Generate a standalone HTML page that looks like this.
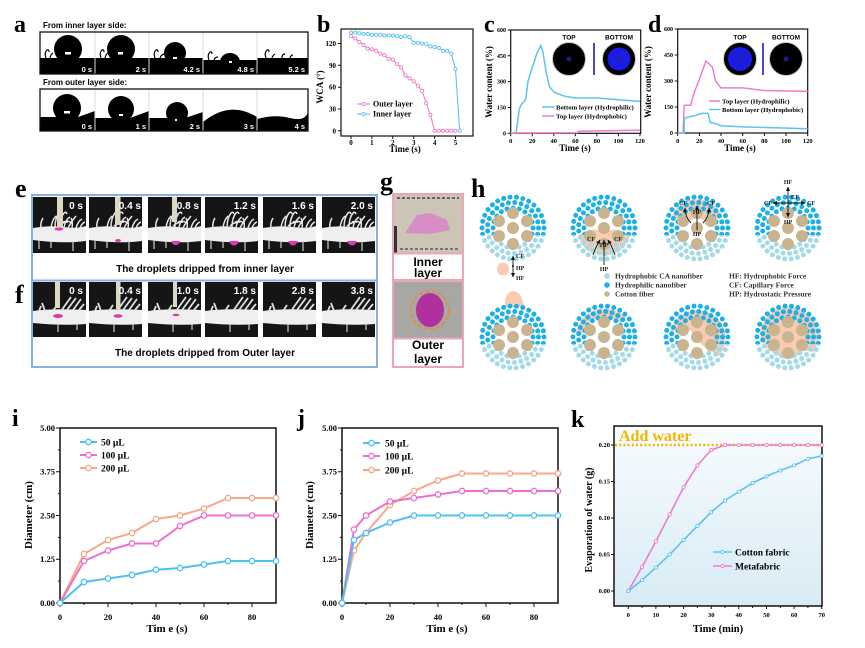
<!DOCTYPE html>
<html><head><meta charset="utf-8"><style>
html,body{margin:0;padding:0;background:#fff;width:865px;height:648px;overflow:hidden}
svg{display:block}
text{font-family:"Liberation Serif",serif;font-weight:bold}
.s, .s text, text.s{font-family:"Liberation Sans",sans-serif;font-weight:bold}
</style></head><body>
<svg width="865" height="648" viewBox="0 0 865 648" xmlns="http://www.w3.org/2000/svg">
<defs>
<marker id="mB" markerUnits="userSpaceOnUse" markerWidth="8" markerHeight="8" refX="4" refY="4"><circle cx="4" cy="4" r="2.7" fill="#fff" stroke="#4fc0f2" stroke-width="1.3"/></marker>
<marker id="mP" markerUnits="userSpaceOnUse" markerWidth="8" markerHeight="8" refX="4" refY="4"><circle cx="4" cy="4" r="2.7" fill="#fff" stroke="#ef6fcf" stroke-width="1.3"/></marker>
<marker id="mO" markerUnits="userSpaceOnUse" markerWidth="8" markerHeight="8" refX="4" refY="4"><circle cx="4" cy="4" r="2.7" fill="#fff" stroke="#f6a888" stroke-width="1.3"/></marker>
<marker id="sB" markerUnits="userSpaceOnUse" markerWidth="6" markerHeight="6" refX="3" refY="3"><circle cx="3" cy="3" r="1.6" fill="#fff" stroke="#5cc3f0" stroke-width="0.9"/></marker>
<marker id="sP" markerUnits="userSpaceOnUse" markerWidth="6" markerHeight="6" refX="3" refY="3"><circle cx="3" cy="3" r="1.6" fill="#fff" stroke="#f07ccc" stroke-width="0.9"/></marker>
<marker id="ar" markerUnits="userSpaceOnUse" markerWidth="5" markerHeight="5" refX="4" refY="2.5" orient="auto"><path d="M0,0.5 L4.5,2.5 L0,4.5 Z" fill="#111"/></marker>
<marker id="ars" markerUnits="userSpaceOnUse" markerWidth="5" markerHeight="5" refX="4" refY="2.5" orient="auto-start-reverse"><path d="M0,0.5 L4.5,2.5 L0,4.5 Z" fill="#111"/></marker>
<linearGradient id="kg" x1="0" y1="0" x2="0" y2="1"><stop offset="0" stop-color="#f8fcfe"/><stop offset="1" stop-color="#d8ebf5"/></linearGradient>
<radialGradient id="bl"><stop offset="0" stop-color="#2020c8"/><stop offset="1" stop-color="#1a1af0"/></radialGradient>
<clipPath id="lowc"><rect x="-40" y="7" width="80" height="40"/></clipPath>
<clipPath id="upc"><rect x="-40" y="-40" width="80" height="47"/></clipPath>
<g id="fib">
 <g clip-path="url(#upc)" fill="none" stroke="#1cb0e9" stroke-width="5" stroke-linecap="round">
  <circle r="31" stroke-dasharray="0 6.493"/>
  <circle r="25.5" stroke-dasharray="0 6.409"/>
  <circle r="20" stroke-dasharray="0 6.283"/>
 </g>
 <g clip-path="url(#lowc)" fill="none" stroke="#a2dbe7" stroke-width="5" stroke-linecap="round">
  <circle r="31" stroke-dasharray="0 6.493"/>
  <circle r="25.5" stroke-dasharray="0 6.409"/>
  <circle r="20" stroke-dasharray="0 6.283"/>
 </g>
 <g fill="#c9b48f">
  <circle cx="0" cy="-15" r="6"/><circle cx="-14" cy="-7" r="6"/><circle cx="14" cy="-7" r="6"/>
  <circle cx="0" cy="0" r="6"/><circle cx="-14" cy="8" r="6"/><circle cx="14" cy="8" r="6"/>
  <circle cx="0" cy="16" r="6"/>
 </g>
</g>
<g id="eF">
 <rect x="0" y="197" width="53" height="56" fill="#151515"/>
 <path d="M0,228 Q15,225 30,227 T53,226 L53,241 Q30,244 0,240 Z" fill="#efefef"/>
 <path d="M18,228 q1,-8 5,-12 M22,228 q0,-10 4,-15 q2,-2 3,1 M27,227 q0,-9 4,-14 q2,-2 3,1 M31,227 q2,-8 6,-10 M35,228 q3,-6 8,-12 M39,228 q1,-6 -1,-10 M43,228 q2,-7 6,-9 M8,229 q-1,-6 2,-11 M47,228 q2,-5 5,-6 M25,226 q4,-4 10,-4 M30,222 q5,-2 9,1" stroke="#e8e8e8" stroke-width="1.5" fill="none"/>
 <path d="M6,240 v9 M18,241 v7 M40,241 v10" stroke="#cfcfcf" stroke-width="1.2"/>
</g>
<g id="fF">
 <rect x="0" y="282" width="53" height="55" fill="#151515"/>
 <path d="M0,311 Q20,308 53,310 L53,324 Q30,326 0,323 Z" fill="#efefef"/>
 <path d="M28,311 l10,-14 M34,310 l9,-12 M40,310 l8,-11 M12,311 l-3,-8 M46,310 l5,-6 M20,311 l4,-6 M6,311 l2,-5" stroke="#e0e0e0" stroke-width="1.8" fill="none"/>
 <path d="M25,324 v8 M44,324 v6" stroke="#cfcfcf" stroke-width="1.2"/>
</g>
</defs>

<rect width="865" height="648" fill="#fff"/>

<!-- ===== Panel a ===== -->
<text x="14" y="32" font-size="24">a</text>
<text class="s" x="43" y="28" font-size="8">From inner layer side:</text>
<rect x="40" y="32" width="268" height="42" fill="#fff"/>
<g fill="#000">
 <rect x="40" y="58" width="55" height="16"/><circle cx="68" cy="49" r="14"/>
 <rect x="95" y="58" width="54" height="16"/><circle cx="121" cy="49" r="14"/>
 <rect x="149" y="58" width="54" height="16"/><circle cx="175" cy="53" r="11"/>
 <rect x="203" y="60" width="54" height="14"/><ellipse cx="230" cy="62" rx="10" ry="9"/>
 <rect x="257" y="58" width="51" height="16"/>
</g>
<path d="M46,58 q-2,-5 1,-8 q2,-1 2,2 M50,58 q1,-4 3,-5 M101,58 q-2,-5 1,-8 q2,-1 2,2 M105,58 q1,-4 3,-5 M155,58 q-2,-5 1,-8 q2,-1 2,2 M160,58 q1,-3 4,-4 M209,60 q-2,-5 1,-8 q2,-1 2,2 M214,60 q1,-3 4,-3 M266,58 q-2,-5 1,-8 q2,-1 2,2 M272,58 q1,-3 3,-4 M282,58 q0,-4 3,-4 M290,58 q1,-3 3,-3" stroke="#000" stroke-width="1.2" fill="none"/>
<g fill="#fff"><rect x="65" y="52" width="6" height="2.5"/><rect x="118" y="52" width="5" height="2.5"/><rect x="173" y="57" width="4" height="2"/><rect x="229" y="61" width="3" height="2"/></g>
<g stroke="#ddd" stroke-width="1"><line x1="95" y1="32" x2="95" y2="74"/><line x1="149" y1="32" x2="149" y2="74"/><line x1="203" y1="32" x2="203" y2="74"/><line x1="257" y1="32" x2="257" y2="74"/></g>
<rect x="40" y="32" width="268" height="42" fill="none" stroke="#111" stroke-width="1.3"/>
<g class="s" font-size="7.5" fill="#fff" text-anchor="end"><text x="92" y="72">0 s</text><text x="146" y="72">2 s</text><text x="200" y="72">4.2 s</text><text x="254" y="72">4.8 s</text><text x="305" y="72">5.2 s</text></g>

<text class="s" x="43" y="85" font-size="8">From outer layer side:</text>
<rect x="40" y="89" width="268" height="42" fill="#fff"/>
<g fill="#000">
 <path d="M40,117 L78,117 L95,111 V131 H40 Z"/><circle cx="67" cy="108" r="14"/>
 <path d="M95,118 L130,118 L149,111 V131 H95 Z"/><circle cx="121" cy="109" r="13"/>
 <path d="M149,118 L185,118 L203,112 V131 H149 Z"/><circle cx="177" cy="113" r="11"/>
 <path d="M203,122 Q230,100 257,117 V131 H203 Z"/>
 <path d="M257,119 Q275,114 290,118 T308,112 V131 H257 Z"/>
</g>
<g fill="#fff"><rect x="64" y="111" width="6" height="2.5"/><rect x="119" y="114" width="4" height="2"/><rect x="175" y="119" width="2" height="2"/></g>
<g stroke="#ddd" stroke-width="1"><line x1="95" y1="89" x2="95" y2="131"/><line x1="149" y1="89" x2="149" y2="131"/><line x1="203" y1="89" x2="203" y2="131"/><line x1="257" y1="89" x2="257" y2="131"/></g>
<rect x="40" y="89" width="268" height="42" fill="none" stroke="#111" stroke-width="1.3"/>
<g class="s" font-size="7.5" fill="#fff" text-anchor="end"><text x="92" y="129">0 s</text><text x="146" y="129">1 s</text><text x="200" y="129">2 s</text><text x="254" y="129">3 s</text><text x="305" y="129">4 s</text></g>

<!-- ===== Panel b ===== -->
<text x="317" y="32" font-size="24">b</text>
<rect x="341" y="29" width="132" height="107" fill="none" stroke="#111" stroke-width="1.2"/>
<g stroke="#111" stroke-width="1">
 <path d="M341,130.8 h-3 M341,109 h-3 M341,87.2 h-3 M341,65.3 h-3 M341,43.5 h-3"/>
 <path d="M351,136 v3 M371.9,136 v3 M392.8,136 v3 M413.7,136 v3 M434.6,136 v3 M455.5,136 v3"/>
</g>
<g font-size="7" text-anchor="end"><text x="336" y="133.3">0</text><text x="336" y="111.5">30</text><text x="336" y="89.7">60</text><text x="336" y="67.8">90</text><text x="336" y="46">120</text></g>
<g font-size="7" text-anchor="middle"><text x="351" y="145">0</text><text x="371.9" y="145">1</text><text x="392.8" y="145">2</text><text x="413.7" y="145">3</text><text x="434.6" y="145">4</text><text x="455.5" y="145">5</text></g>
<text x="405" y="152" font-size="9" text-anchor="middle">Time (s)</text>
<text transform="translate(323,87) rotate(-90)" font-size="9" text-anchor="middle">WCA (°)</text>
<polyline fill="none" stroke="#f07ccc" stroke-width="1.1" marker-start="url(#sP)" marker-mid="url(#sP)" marker-end="url(#sP)" points="351,36.2 355.2,38.4 359.4,42 363.5,45 367.7,48.6 371.9,49.3 376.1,50.8 380.3,53.7 384.4,55.1 388.6,58.8 392.8,59.5 397,63.9 401.2,67.5 405.3,75.5 409.5,78.4 413.7,81.3 417.9,85.7 422.1,90.8 426.2,103.2 430.4,114.8 434.6,130.8 438.8,130.8 443,130.8 447.1,130.8 451.3,130.8 455.5,130.8"/>
<polyline fill="none" stroke="#5cc3f0" stroke-width="1.1" marker-start="url(#sB)" marker-mid="url(#sB)" marker-end="url(#sB)" points="351,32.6 355.2,32.6 359.4,33.3 363.5,34 367.7,34 371.9,34.8 376.1,34.8 380.3,34.8 384.4,35.5 388.6,35.5 392.8,35.5 397,36.2 401.2,37 405.3,36.2 409.5,37 413.7,42.8 417.9,42.8 422.1,43.5 426.2,44.2 430.4,46.4 434.6,47.1 438.8,47.9 443,50.8 447.1,50.8 451.3,53.7 455.5,69 459.7,130.8"/>
<polyline points="357,104 363.5,104 370,104" fill="none" stroke="#f07ccc" stroke-width="1.1" marker-mid="url(#sP)"/>
<polyline points="357,114 363.5,114 370,114" fill="none" stroke="#5cc3f0" stroke-width="1.1" marker-mid="url(#sB)"/>
<text x="373" y="106.5" font-size="8">Outer layer</text>
<text x="373" y="116.5" font-size="8">Inner layer</text>

<!-- ===== Panel c ===== -->
<text x="484" y="32" font-size="24">c</text>
<rect x="510.7" y="30" width="130" height="103.3" fill="none" stroke="#111" stroke-width="1.2"/>
<g stroke="#111" stroke-width="1">
 <path d="M510.7,133.3 h-3 M510.7,107.5 h-3 M510.7,81.6 h-3 M510.7,55.8 h-3 M510.7,30 h-3"/>
 <path d="M510.7,133.3 v3 M532.25,133.3 v3 M553.8,133.3 v3 M575.35,133.3 v3 M596.9,133.3 v3 M618.45,133.3 v3 M640,133.3 v3"/>
</g>
<g font-size="6" text-anchor="end"><text x="506" y="135.3">0</text><text x="506" y="109.5">150</text><text x="506" y="83.6">300</text><text x="506" y="57.8">450</text><text x="506" y="32">600</text></g>
<g font-size="6.5" text-anchor="middle"><text x="510.7" y="143">0</text><text x="532.25" y="143">20</text><text x="553.8" y="143">40</text><text x="575.35" y="143">60</text><text x="596.9" y="143">80</text><text x="618.45" y="143">100</text><text x="640" y="143">120</text></g>
<text x="575" y="151" font-size="9" text-anchor="middle">Time (s)</text>
<text transform="translate(492,82) rotate(-90)" font-size="9" text-anchor="middle">Water content (%)</text>
<polyline fill="none" stroke="#5cc3f0" stroke-width="1.5" points="510.7,133.3 515,133.3 516.1,132.4 517.2,124.7 519.3,109.2 521.5,104 523.6,102.3 525.8,98.9 527.9,81.6 532.2,67.9 536.6,54.1 540.9,45.5 543,52.4 546.3,73 549.5,86.8 553.8,92 564.6,96.3 575.4,98 596.9,98 618.5,99.7 640,101.4"/>
<polyline fill="none" stroke="#f07ccc" stroke-width="1.5" points="510.7,133 577.5,132.8 578.6,131.2 640,130.2"/>
<circle cx="569" cy="59" r="16.5" fill="#000" stroke="#c8c8c8" stroke-width="1"/>
<circle cx="569" cy="59" r="2.5" fill="#1c1c80"/>
<circle cx="619" cy="59" r="16.5" fill="#000" stroke="#c8c8c8" stroke-width="1"/>
<circle cx="619" cy="59" r="11.5" fill="url(#bl)"/>
<line x1="594" y1="43" x2="594" y2="75" stroke="#1a1ac0" stroke-width="1.6"/>
<text class="s" x="569" y="39.5" font-size="6.5" text-anchor="middle">TOP</text>
<text class="s" x="619" y="39.5" font-size="6.5" text-anchor="middle">BOTTOM</text>
<line x1="542" y1="107" x2="554" y2="107" stroke="#5cc3f0" stroke-width="1.5"/>
<line x1="542" y1="116" x2="554" y2="116" stroke="#f07ccc" stroke-width="1.5"/>
<text x="556" y="109.5" font-size="6.7">Bottom layer (Hydrophilic)</text>
<text x="556" y="118.5" font-size="6.7">Top layer (Hydrophobic)</text>

<!-- ===== Panel d ===== -->
<text x="648" y="32" font-size="24">d</text>
<rect x="677.7" y="29" width="130" height="104" fill="none" stroke="#111" stroke-width="1.2"/>
<g stroke="#111" stroke-width="1">
 <path d="M677.7,133 h-3 M677.7,107 h-3 M677.7,81 h-3 M677.7,55 h-3 M677.7,29 h-3"/>
 <path d="M677.7,133 v3 M699.4,133 v3 M721,133 v3 M742.7,133 v3 M764.4,133 v3 M786,133 v3 M807.7,133 v3"/>
</g>
<g font-size="6" text-anchor="end"><text x="673" y="135">0</text><text x="673" y="109">150</text><text x="673" y="83">300</text><text x="673" y="57">450</text><text x="673" y="31">600</text></g>
<g font-size="6.5" text-anchor="middle"><text x="677.7" y="143">0</text><text x="699.4" y="143">20</text><text x="721" y="143">40</text><text x="742.7" y="143">60</text><text x="764.4" y="143">80</text><text x="786" y="143">100</text><text x="807.7" y="143">120</text></g>
<text x="740" y="151" font-size="9" text-anchor="middle">Time (s)</text>
<text transform="translate(651,82) rotate(-90)" font-size="9" text-anchor="middle">Water content (%)</text>
<polyline fill="none" stroke="#f07ccc" stroke-width="1.5" points="677.7,133 683.1,133 684.2,105.3 690.7,105.3 694,93.1 699.4,79.3 705.9,61.1 708,62.8 712.4,67.1 715.6,81 721,87.9 742.7,87.9 764.4,90.5 807.7,91.4"/>
<polyline fill="none" stroke="#5cc3f0" stroke-width="1.5" points="677.7,133 684.2,133 684.2,119.1 686.4,117.4 695,115.7 701.5,113.4 708,113.4 710.2,122.6 715.6,123.5 721,125.7 742.7,126.9 807.7,128.7"/>
<circle cx="740" cy="59" r="16.5" fill="#000" stroke="#c8c8c8" stroke-width="1"/>
<circle cx="740" cy="59" r="12" fill="url(#bl)"/>
<circle cx="786" cy="59" r="16.5" fill="#000" stroke="#c8c8c8" stroke-width="1"/>
<circle cx="786" cy="59" r="2.5" fill="#1c1c80"/>
<line x1="763" y1="43" x2="763" y2="75" stroke="#1a1ac0" stroke-width="1.6"/>
<text class="s" x="740" y="39.5" font-size="6.5" text-anchor="middle">TOP</text>
<text class="s" x="786" y="39.5" font-size="6.5" text-anchor="middle">BOTTOM</text>
<line x1="709" y1="101" x2="720" y2="101" stroke="#f07ccc" stroke-width="1.5"/>
<line x1="709" y1="109.5" x2="720" y2="109.5" stroke="#5cc3f0" stroke-width="1.5"/>
<text x="722" y="103.5" font-size="6.7">Top layer (Hydrophilic)</text>
<text x="722" y="112" font-size="6.7">Bottom layer (Hydrophobic)</text>

<!-- ===== Panels e/f ===== -->
<text x="15" y="197" font-size="26">e</text>
<text x="15" y="303" font-size="26">f</text>
<rect x="32" y="195" width="345" height="172" fill="#fff"/>
<use href="#eF" x="33"/><use href="#eF" x="89"/><use href="#eF" x="148"/><use href="#eF" x="205"/><use href="#eF" x="263"/><use href="#eF" x="322"/>
<g fill="#dcd8c2">
 <rect x="57" y="197" width="6" height="30"/><rect x="115" y="197" width="5.5" height="28"/><rect x="172" y="197" width="5" height="25"/>
</g>
<g fill="#e038b0">
 <ellipse cx="59" cy="229" rx="4.5" ry="1.6"/><ellipse cx="118" cy="240.5" rx="3" ry="1.5"/>
 <path d="M171.5,241 a4.2,4.2 0 0 0 8.4,0 Z"/><path d="M229.5,241 a4.5,4.5 0 0 0 9,0 Z"/><path d="M288.5,241 a4.5,4.5 0 0 0 9,0 Z"/><path d="M347.5,241 a4.5,4.5 0 0 0 9,0 Z"/>
</g>
<g class="s" font-size="10" fill="#fff" text-anchor="end">
 <text x="83" y="209">0 s</text><text x="141" y="209">0.4 s</text><text x="199" y="209">0.8 s</text><text x="256" y="209">1.2 s</text><text x="314" y="209">1.6 s</text><text x="373" y="209">2.0 s</text>
</g>
<text class="s" x="205" y="272" font-size="10" text-anchor="middle">The droplets dripped from inner layer</text>
<use href="#fF" x="33"/><use href="#fF" x="89"/><use href="#fF" x="148"/><use href="#fF" x="205"/><use href="#fF" x="263"/><use href="#fF" x="322"/>
<g fill="#dcd8c2">
 <rect x="55" y="282" width="5" height="26"/><rect x="116" y="282" width="4.5" height="27"/><rect x="173" y="282" width="4" height="25"/>
</g>
<g fill="#e038b0"><ellipse cx="58" cy="316" rx="5" ry="2"/><ellipse cx="118" cy="316" rx="4.5" ry="1.8"/><ellipse cx="176" cy="315" rx="3.5" ry="1.3"/></g>
<g class="s" font-size="10" fill="#fff" text-anchor="end">
 <text x="83" y="294">0 s</text><text x="141" y="294">0.4 s</text><text x="199" y="294">1.0 s</text><text x="256" y="294">1.8 s</text><text x="314" y="294">2.8 s</text><text x="373" y="294">3.8 s</text>
</g>
<text class="s" x="205" y="356" font-size="10" text-anchor="middle">The droplets dripped from Outer layer</text>
<rect x="32" y="195" width="345" height="172" fill="none" stroke="#8aaee0" stroke-width="2"/>
<line x1="32" y1="280.5" x2="377" y2="280.5" stroke="#8aaee0" stroke-width="2"/>

<!-- ===== Panel g ===== -->
<text x="380" y="190" font-size="26">g</text>
<rect x="394" y="195" width="68" height="58" fill="#ccc4b4"/>
<path d="M397,198 h62" stroke="#444" stroke-width="1.5" stroke-dasharray="3 2"/>
<path d="M400,249 h58" stroke="#444" stroke-width="1.2" stroke-dasharray="3 2"/>
<rect x="394" y="226" width="3" height="27" fill="#333"/>
<path d="M405,233 L417,215 L430,213 L447,220 L450,230 L430,234 Z" fill="#d888c6" opacity="0.9"/>
<rect x="394" y="282" width="68" height="56" fill="#a8a7a3"/>
<ellipse cx="430" cy="310" rx="14" ry="17" fill="#b0309f"/>
<circle cx="430" cy="310" r="19" fill="none" stroke="#f0842a" stroke-width="1.5" stroke-dasharray="4 2.5"/>
<g class="s" font-size="12" text-anchor="middle"><text x="428" y="266">Inner</text><text x="428" y="277">layer</text><text x="428" y="349">Outer</text><text x="428" y="363">layer</text></g>
<g fill="none" stroke="#eaa7b9" stroke-width="2"><rect x="393" y="194" width="70" height="86"/><rect x="393" y="281" width="70" height="86"/><line x1="393" y1="253.5" x2="463" y2="253.5"/><line x1="393" y1="338.5" x2="463" y2="338.5"/></g>

<!-- ===== Panel h ===== -->
<text x="471" y="197" font-size="26">h</text>
<g fill="#f8cbb2">
 <ellipse cx="503" cy="269" rx="6" ry="6.5"/>
 <path d="M578,236 Q590,226 604,232 Q618,226 630,236 A27,27 0 0 1 578,236 Z"/>
 <path d="M672,216 Q684,224 697,218 Q710,224 722,216 A27,27 0 0 0 672,216 Z"/>
 <path d="M505,307 Q504,292 513,291 Q521,292 522,300 L525,307 Z"/>
 <path d="M576,333 A29,29 0 0 1 626,318 L620,323 A23,23 0 0 0 582,334 Z"/>
 <path d="M670,333 A28,28 0 1 1 719,356 L706,348 Q697,342 691,331 Q681,324 670,333 Z"/>
 <path d="M760,333 A29,29 0 1 1 813,352 L802,350 Q794,362 783,358 Q771,353 765,346 Z"/>
</g>
<use href="#fib" x="513" y="228"/><use href="#fib" x="604" y="228"/><use href="#fib" x="697" y="228"/><use href="#fib" x="788" y="228"/>
<use href="#fib" x="513" y="337"/><use href="#fib" x="604" y="337"/><use href="#fib" x="697" y="337"/><use href="#fib" x="788" y="337"/>
<g stroke="#111" stroke-width="0.9" fill="none">
 <line x1="513" y1="266" x2="513" y2="256" marker-end="url(#ar)"/>
 <line x1="513" y1="266" x2="513" y2="277" marker-end="url(#ar)"/>
 <line x1="604" y1="265" x2="604" y2="240" marker-end="url(#ar)"/>
 <path d="M593,255 Q596,246 600,240" marker-end="url(#ar)"/>
 <path d="M615,255 Q612,246 608,240" marker-end="url(#ar)"/>
 <line x1="697" y1="230" x2="697" y2="206" marker-end="url(#ar)"/>
 <path d="M691,223 Q685,217 685,208" marker-end="url(#ar)"/>
 <path d="M703,223 Q709,217 709,208" marker-end="url(#ar)"/>
 <line x1="788" y1="217" x2="788" y2="187" marker-start="url(#ars)" marker-end="url(#ar)"/>
 <line x1="773" y1="203" x2="805" y2="203" marker-start="url(#ars)" marker-end="url(#ar)"/>
</g>
<circle cx="513" cy="266" r="1" fill="#111"/>
<g font-size="6" fill="#222">
 <text x="516" y="258">CF</text><text x="516" y="270">HP</text><text x="516" y="280">HF</text>
 <text x="591" y="241" text-anchor="middle">CF</text><text x="618" y="241" text-anchor="middle">CF</text>
 <text x="604" y="247" text-anchor="middle">HP</text><text x="604" y="271" text-anchor="middle">HP</text>
 <text x="683" y="205" text-anchor="middle">CF</text><text x="711" y="205" text-anchor="middle">CF</text>
 <text x="697" y="214" text-anchor="middle">HP</text><text x="697" y="236" text-anchor="middle">HP</text>
 <text x="788" y="184" text-anchor="middle">HF</text><text x="791" y="199">CF</text>
 <text x="772" y="205" text-anchor="end">CF</text><text x="807" y="205">CF</text>
 <text x="788" y="224" text-anchor="middle">HP</text>
</g>
<circle cx="607" cy="276" r="2.8" fill="#a2dbe7"/>
<circle cx="607" cy="285" r="2.8" fill="#1cb0e9"/>
<circle cx="607" cy="294" r="2.8" fill="#c9b48f"/>
<g font-size="7.5" fill="#333">
 <text x="615" y="278.5">Hydrophobic CA nanofiber</text>
 <text x="615" y="287.5">Hydrophilic nanofiber</text>
 <text x="615" y="296.5">Cotton fiber</text>
 <text x="729" y="278.5">HF: Hydrophobic Force</text>
 <text x="729" y="287.5">CF: Capillary Force</text>
 <text x="729" y="296.5">HP: Hydrostatic Pressure</text>
</g>

<!-- ===== Panel i ===== -->
<text x="12" y="426" font-size="24">i</text>
<rect x="60" y="428" width="216" height="175" fill="none" stroke="#111" stroke-width="1.5"/>
<g stroke="#111" stroke-width="1">
 <path d="M60,603 h-4 M60,559.25 h-4 M60,515.5 h-4 M60,471.75 h-4 M60,428 h-4 M60,581.1 h-2 M60,537.4 h-2 M60,493.6 h-2 M60,449.9 h-2"/>
 <path d="M60,603 v4 M108,603 v4 M156,603 v4 M204,603 v4 M252,603 v4 M84,603 v2 M132,603 v2 M180,603 v2 M228,603 v2"/>
</g>
<g font-size="8.5" text-anchor="end"><text x="55" y="606">0.00</text><text x="55" y="562.2">1.25</text><text x="55" y="518.5">2.50</text><text x="55" y="474.7">3.75</text><text x="55" y="431">5.00</text></g>
<g font-size="8.5" text-anchor="middle"><text x="60" y="620">0</text><text x="108" y="620">20</text><text x="156" y="620">40</text><text x="204" y="620">60</text><text x="252" y="620">80</text></g>
<text x="167" y="632" font-size="11" text-anchor="middle">Tim e (s)</text>
<text transform="translate(32,515) rotate(-90)" font-size="11" text-anchor="middle">Diameter (cm)</text>
<g fill="none" stroke-width="2">
<polyline stroke="#f6a888" marker-start="url(#mO)" marker-mid="url(#mO)" marker-end="url(#mO)" points="60,603 84,554 108,540 132,533 156,519 180,515.5 204,508.5 228,498 252,498 276,498"/>
<polyline stroke="#ef6fcf" marker-start="url(#mP)" marker-mid="url(#mP)" marker-end="url(#mP)" points="60,603 84,561 108,550.5 132,543.5 156,543.5 180,526 204,515.5 228,515.5 252,515.5 276,515.5"/>
<polyline stroke="#4fc0f2" marker-start="url(#mB)" marker-mid="url(#mB)" marker-end="url(#mB)" points="60,603 84,582 108,578.5 132,575 156,569.75 180,568 204,564.5 228,561 252,561 276,561"/>
<polyline stroke="#4fc0f2" marker-mid="url(#mB)" points="80,442 88.5,442 97,442"/>
<polyline stroke="#ef6fcf" marker-mid="url(#mP)" points="80,455 88.5,455 97,455"/>
<polyline stroke="#f6a888" marker-mid="url(#mO)" points="80,468 88.5,468 97,468"/>
</g>
<g font-size="9.5"><text x="101" y="445.5">50 µL</text><text x="101" y="458.5">100 µL</text><text x="101" y="471.5">200 µL</text></g>

<!-- ===== Panel j ===== -->
<text x="297" y="426" font-size="24">j</text>
<rect x="342" y="428" width="216" height="175" fill="none" stroke="#111" stroke-width="1.5"/>
<g stroke="#111" stroke-width="1">
 <path d="M342,603 h-4 M342,559.25 h-4 M342,515.5 h-4 M342,471.75 h-4 M342,428 h-4 M342,581.1 h-2 M342,537.4 h-2 M342,493.6 h-2 M342,449.9 h-2"/>
 <path d="M342,603 v4 M390,603 v4 M438,603 v4 M486,603 v4 M534,603 v4 M366,603 v2 M414,603 v2 M462,603 v2 M510,603 v2"/>
</g>
<g font-size="8.5" text-anchor="end"><text x="337" y="606">0.00</text><text x="337" y="562.2">1.25</text><text x="337" y="518.5">2.50</text><text x="337" y="474.7">3.75</text><text x="337" y="431">5.00</text></g>
<g font-size="8.5" text-anchor="middle"><text x="342" y="620">0</text><text x="390" y="620">20</text><text x="438" y="620">40</text><text x="486" y="620">60</text><text x="534" y="620">80</text></g>
<text x="447" y="632" font-size="11" text-anchor="middle">Tim e (s)</text>
<text transform="translate(313,515) rotate(-90)" font-size="11" text-anchor="middle">Diameter (cm)</text>
<g fill="none" stroke-width="2">
<polyline stroke="#f6a888" marker-start="url(#mO)" marker-mid="url(#mO)" marker-end="url(#mO)" points="342,603 354,550.5 366,533 390,505 414,491 438,480.5 462,473.5 486,473.5 510,473.5 534,473.5 558,473.5"/>
<polyline stroke="#ef6fcf" marker-start="url(#mP)" marker-mid="url(#mP)" marker-end="url(#mP)" points="342,603 354,529.5 366,515.5 390,501.5 414,498 438,494.5 462,491 486,491 510,491 534,491 558,491"/>
<polyline stroke="#4fc0f2" marker-start="url(#mB)" marker-mid="url(#mB)" marker-end="url(#mB)" points="342,603 354,540 366,533 390,522.5 414,515.5 438,515.5 462,515.5 486,515.5 510,515.5 534,515.5 558,515.5"/>
<polyline stroke="#4fc0f2" marker-mid="url(#mB)" points="363,443 371.5,443 380,443"/>
<polyline stroke="#ef6fcf" marker-mid="url(#mP)" points="363,456 371.5,456 380,456"/>
<polyline stroke="#f6a888" marker-mid="url(#mO)" points="363,470 371.5,470 380,470"/>
</g>
<g font-size="9.5"><text x="385" y="446.5">50 µL</text><text x="385" y="459.5">100 µL</text><text x="385" y="473.5">200 µL</text></g>

<!-- ===== Panel k ===== -->
<text x="571" y="427" font-size="24">k</text>
<rect x="614" y="426" width="208" height="180" fill="url(#kg)" stroke="#111" stroke-width="1.5"/>
<g stroke="#111" stroke-width="1">
 <path d="M614,591 h-3 M614,554.5 h-3 M614,518 h-3 M614,481.5 h-3 M614,445 h-3"/>
 <path d="M628.3,606 v3 M655.9,606 v3 M683.6,606 v3 M711.2,606 v3 M738.8,606 v3 M766.5,606 v3 M794.1,606 v3 M821.7,606 v3 M642.1,606 v2 M669.7,606 v2 M697.4,606 v2 M725,606 v2 M752.6,606 v2 M780.3,606 v2 M807.9,606 v2"/>
</g>
<g font-size="6.5" text-anchor="end"><text x="610" y="593">0.00</text><text x="610" y="556.5">0.05</text><text x="610" y="520">0.10</text><text x="610" y="483.5">0.15</text><text x="610" y="447">0.20</text></g>
<g font-size="6.5" text-anchor="middle"><text x="628.3" y="617">0</text><text x="655.9" y="617">10</text><text x="683.6" y="617">20</text><text x="711.2" y="617">30</text><text x="738.8" y="617">40</text><text x="766.5" y="617">50</text><text x="794.1" y="617">60</text><text x="821.7" y="617">70</text></g>
<text x="718" y="632" font-size="10.5" text-anchor="middle">Time (min)</text>
<text transform="translate(592,520) rotate(-90)" font-size="10" text-anchor="middle">Evaporation of water (g)</text>
<line x1="615" y1="445" x2="821" y2="445" stroke="#f5b400" stroke-width="2.5" stroke-dasharray="2 2.2"/>
<text x="619" y="441" font-size="16" fill="#f5b400">Add water</text>
<g fill="none" stroke-width="1.6">
<polyline stroke="#f07ccc" marker-start="url(#sP)" marker-mid="url(#sP)" marker-end="url(#sP)" points="628.3,591 642.1,566.9 655.9,541.4 669.7,514.35 683.6,487.3 697.4,465.4 711.2,450.1 725,445 738.8,445 752.6,445 766.5,445 780.3,445 794.1,445 807.9,445 821.7,445"/>
<polyline stroke="#5cc3f0" marker-start="url(#sB)" marker-mid="url(#sB)" marker-end="url(#sB)" points="628.3,591 642.1,580.05 655.9,567.6 669.7,554.5 683.6,539.9 697.4,526 711.2,512.2 725,500.5 738.8,491.7 752.6,483 766.5,476.4 780.3,470.5 794.1,465.4 807.9,458.9 821.7,456"/>
<polyline stroke="#5cc3f0" marker-mid="url(#sB)" points="713,552 722.5,552 732,552"/>
<polyline stroke="#f07ccc" marker-mid="url(#sP)" points="713,566 722.5,566 732,566"/>
</g>
<text x="735" y="555.5" font-size="9.5">Cotton fabric</text>
<text x="735" y="569.5" font-size="9.5">Metafabric</text>
</svg>
</body></html>
